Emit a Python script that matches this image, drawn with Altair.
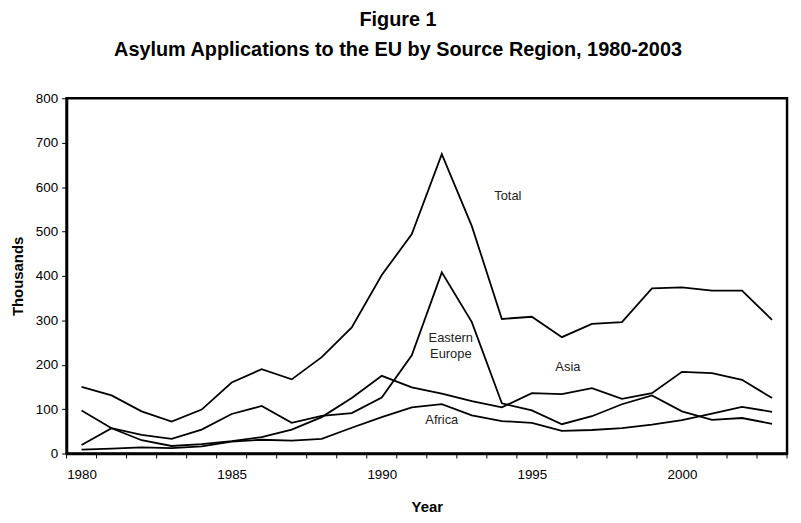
import altair as alt
import pandas as pd

# ---- data (thousands of applications) ----
years = list(range(1980, 2004))
total = [150, 131, 95, 72, 99, 160, 190, 167, 217, 284, 402, 494,
         674, 512, 303, 308, 262, 292, 296, 372, 374, 367, 367, 301]
eastern_europe = [19, 57, 42, 33, 54, 89, 107, 69, 85, 91, 126, 221,
                  408, 296, 113, 97, 66, 84, 111, 131, 95, 76, 80, 67]
asia = [97, 57, 30, 17, 21, 28, 37, 54, 82, 125, 175, 149,
        135, 118, 104, 136, 134, 147, 123, 136, 184, 181, 166, 125]
africa = [9, 11, 14, 12, 16, 27, 31, 29, 33, 58, 82, 104,
          111, 86, 73, 69, 51, 53, 57, 65, 75, 90, 105, 94]

label_text = ["Total", "Eastern", "Europe", "Asia", "Africa"]
label_year = [1994.2, 1992.3, 1992.3, 1996.2, 1992.0]
label_value = [579, 261, 223, 194, 76]

x_label_years = [1980, 1985, 1990, 1995, 2000]
y_ticks = [0, 100, 200, 300, 400, 500, 600, 700, 800]

title_lines = ["Figure 1", "Asylum Applications to the EU by Source Region, 1980-2003"]

# ---- tables ----
series = {"Total": total, "Eastern Europe": eastern_europe, "Asia": asia, "Africa": africa}
rows = []
for name, vals in series.items():
    for yr, v in zip(years, vals):
        rows.append({"Year": yr, "Thousands": v, "Region": name})
df = pd.DataFrame(rows)

labels_df = pd.DataFrame({"text": label_text, "Year": label_year, "Thousands": label_value})
tick_df = pd.DataFrame({"Year": [y - 0.5 for y in years] + [years[-1] + 0.5]})

W, H = 726, 358
FONT = "Liberation Sans"

x_scale = alt.Scale(domain=[years[0] - 0.5, years[-1] + 0.5], nice=False, zero=False)
y_scale = alt.Scale(domain=[y_ticks[0], y_ticks[-1]], nice=False)

x_axis = alt.Axis(
    values=x_label_years, format="d", ticks=False, grid=False,
    domainColor="black", domainWidth=2.5,
    labelFont=FONT, labelFontSize=13.5, labelColor="black", labelPadding=14,
    labelFlush=False,
    title="Year", titleFont=FONT, titleFontSize=15, titleFontWeight="bold",
    titleColor="black", titleX=W / 2, titleY=58, titleBaseline="alphabetic",
    titleAlign="center",
)
y_axis = alt.Axis(
    values=y_ticks, grid=False, tickSize=5, tickColor="black", tickWidth=1,
    domainColor="black", domainWidth=2.5,
    labelFont=FONT, labelFontSize=13.5, labelColor="black", labelPadding=4,
    title="Thousands", titleFont=FONT, titleFontSize=15, titleFontWeight="bold",
    titleColor="black", titleX=-49, titleY=H / 2, titleAngle=270,
    titleAlign="center", titleBaseline="middle",
)

lines = alt.Chart(df).mark_line(color="black", strokeWidth=1.8).encode(
    x=alt.X("Year:Q", scale=x_scale, axis=x_axis),
    y=alt.Y("Thousands:Q", scale=y_scale, axis=y_axis),
    detail="Region:N",
)

ticks = alt.Chart(tick_df).mark_rule(color="black", strokeWidth=1).encode(
    x=alt.X("Year:Q", scale=x_scale),
    y=alt.value(H),
    y2=alt.value(H + 5),
)

texts = alt.Chart(labels_df).mark_text(
    font=FONT, fontSize=13, color="#222222", align="center", baseline="middle"
).encode(
    x=alt.X("Year:Q", scale=x_scale),
    y=alt.Y("Thousands:Q", scale=y_scale),
    text="text:N",
)

chart = alt.layer(lines, ticks, texts).properties(
    width=W, height=H,
    background="white",
    autosize=alt.AutoSizeParams(type="none"),
    padding={"left": 59, "top": 89, "right": 6, "bottom": 59},
    title=alt.TitleParams(
        text=title_lines, font=FONT, fontSize=20, fontWeight="bold", color="black",
        anchor="middle", dx=-29, dy=-28, lineHeight=30,
    ),
).configure_view(
    stroke="black", strokeWidth=2.5
)

chart.save("out.html", embed_options={"renderer": "svg", "actions": False})
